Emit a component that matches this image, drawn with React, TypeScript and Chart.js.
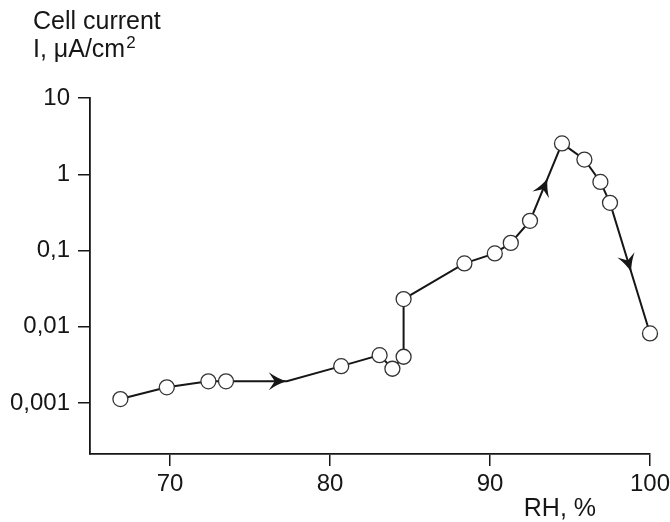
import { useEffect, useRef } from "react";
import { Chart, registerables } from "chart.js";

Chart.register(...registerables);

// Relative humidity (%) of each vertex of the curve
const rh = [66.9, 69.8, 72.4, 73.5, 77.3, 80.7, 83.1, 83.9, 84.6, 84.6, 88.4, 90.3, 91.3, 92.5, 94.5, 95.9, 96.9, 97.5, 100.0];
// Cell current, µA/cm²
const current = [0.00113, 0.00161, 0.00193, 0.00193, 0.00193, 0.00305, 0.00425, 0.00282, 0.00405, 0.0231, 0.0678, 0.0917, 0.126, 0.245, 2.54, 1.56, 0.794, 0.422, 0.00818];
// Measured points get a circle; the bend at 77.3 % is a plain vertex
const measured = [true, true, true, true, false, true, true, true, true, true, true, true, true, true, true, true, true, true, true];

const xTicks = [70, 80, 90, 100];
const yTicks = [0.001, 0.01, 0.1, 1, 10];
const yTickLabels = ["0,001", "0,01", "0,1", "1", "10"];

const yTitleLine1 = "Cell current";
const yTitleLine2 = "I, μA/cm";
const yTitleSup = "2";
const xTitle = "RH, %";

// Direction arrows: segment index (vertex i -> i+1) and where along it the tip sits
const arrowSegments = [3, 13, 17];
const arrowFractions = [1, 0.55, 0.53];

const FONT = '"Liberation Sans", Arial, Helvetica, sans-serif';
const INK = "#161616";

const annotate = {
  id: "annotate",
  afterDatasetsDraw(chart: any) {
    const meta = chart.getDatasetMeta(0);
    const ctx = chart.ctx;
    arrowSegments.forEach((seg, k) => {
      const a = meta.data[seg];
      const b = meta.data[seg + 1];
      const t = arrowFractions[k];
      const x = a.x + (b.x - a.x) * t;
      const y = a.y + (b.y - a.y) * t;
      const ang = Math.atan2(b.y - a.y, b.x - a.x);
      ctx.save();
      ctx.translate(x, y);
      ctx.rotate(ang);
      // swept-back arrowhead with slightly concave flanks
      ctx.beginPath();
      ctx.moveTo(0, 0);
      ctx.quadraticCurveTo(-9, -2.5, -18, -9);
      ctx.lineTo(-12, 0);
      ctx.lineTo(-18, 9);
      ctx.quadraticCurveTo(-9, 2.5, 0, 0);
      ctx.closePath();
      ctx.fillStyle = INK;
      ctx.fill();
      ctx.restore();
    });
  },
  afterDraw(chart: any) {
    const ctx = chart.ctx;
    const area = chart.chartArea;
    ctx.save();
    ctx.fillStyle = INK;
    ctx.textBaseline = "alphabetic";
    ctx.textAlign = "left";
    ctx.font = `25px ${FONT}`;
    ctx.fillText(yTitleLine1, 33, 29);
    ctx.fillText(yTitleLine2, 33, 57);
    const w = ctx.measureText(yTitleLine2).width;
    ctx.font = `17px ${FONT}`;
    ctx.fillText(yTitleSup, 33 + w + 1, 48);
    ctx.font = `25px ${FONT}`;
    ctx.textAlign = "right";
    ctx.fillText(xTitle, area.right - 54, 516);
    ctx.restore();
  },
};

export default function App() {
  const ref = useRef<HTMLCanvasElement | null>(null);

  useEffect(() => {
    const canvas = ref.current;
    if (!canvas) return;
    const chart = new Chart(canvas, {
      type: "line",
      data: {
        datasets: [
          {
            data: rh.map((x, i) => ({ x, y: current[i] })),
            borderColor: INK,
            borderWidth: 2,
            pointRadius: measured.map((m) => (m ? 7.5 : 0)),
            pointBackgroundColor: "#ffffff",
            pointBorderColor: "#333333",
            pointBorderWidth: 1.3,
            tension: 0,
            fill: false,
            clip: false,
          },
        ],
      },
      options: {
        animation: false,
        responsive: false,
        devicePixelRatio: 1,
        layout: { padding: { top: 98, right: 20, left: 0, bottom: 0 } },
        plugins: {
          legend: { display: false },
          tooltip: { enabled: false },
        },
        scales: {
          x: {
            type: "linear",
            min: 65,
            max: 100,
            afterBuildTicks: (s: any) => {
              s.ticks = xTicks.map((v) => ({ value: v }));
            },
            afterFit: (s: any) => {
              s.height = 68;
              s.paddingLeft = 0;
              s.paddingRight = 0;
            },
            ticks: {
              font: { family: FONT, size: 24 },
              color: INK,
              padding: 4,
              maxRotation: 0,
              autoSkip: false,
            },
            grid: {
              drawOnChartArea: false,
              drawTicks: true,
              tickLength: 12,
              color: INK,
              lineWidth: 1.5,
            },
            border: { display: true, color: INK, width: 1.8 },
          },
          y: {
            type: "logarithmic",
            min: 0.000215,
            max: 10,
            afterBuildTicks: (s: any) => {
              s.ticks = yTicks.map((v) => ({ value: v }));
            },
            afterFit: (s: any) => {
              s.width = 90;
              s.paddingTop = 0;
              s.paddingBottom = 0;
            },
            ticks: {
              font: { family: FONT, size: 24 },
              color: INK,
              padding: 8,
              autoSkip: false,
              callback: (v: any) => {
                const i = yTicks.findIndex((t) => Math.abs(Math.log10(t) - Math.log10(Number(v))) < 1e-6);
                return i >= 0 ? yTickLabels[i] : "";
              },
            },
            grid: {
              drawOnChartArea: false,
              drawTicks: true,
              tickLength: 12,
              color: INK,
              lineWidth: 1.5,
            },
            border: { display: true, color: INK, width: 1.8 },
          },
        },
      },
      plugins: [annotate],
    });
    return () => chart.destroy();
  }, []);

  return (
    <div style={{ position: "fixed", left: 0, top: 0, width: 670, height: 522, background: "#fff" }}>
      <canvas ref={ref} width={670} height={522} />
    </div>
  );
}
